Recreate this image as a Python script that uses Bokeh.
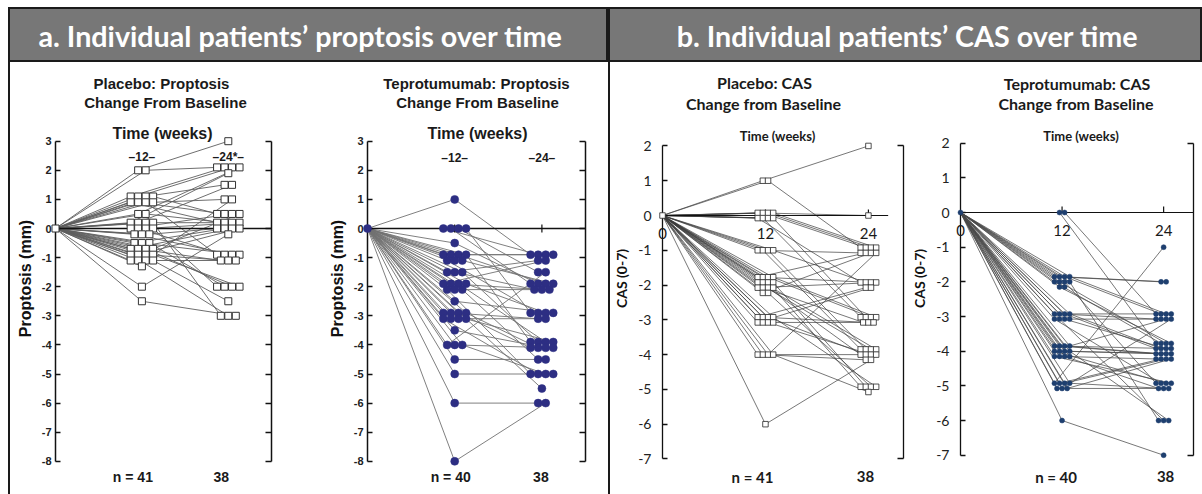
import math
from bokeh.plotting import figure
from bokeh.layouts import column, row
from bokeh.models import Range1d, LinearAxis, FixedTicker, Spacer
from bokeh.core.properties import value
from bokeh.embed import file_html
from bokeh.resources import INLINE

# ---------------- data ----------------
weeks = [0, 12, 24]
baseline_change = 0

headers = ["a. Individual patients\u2019 proptosis over time",
           "b. Individual patients\u2019 CAS over time"]

prop_ticks = [3, 2, 1, 0, -1, -2, -3, -4, -5, -6, -7, -8]
prop_tick_labels = ["3", "2", "1", "0", "-1", "-2", "-3", "-4", "-5", "-6", "-7", "-8"]
cas_ticks = [2, 1, 0, -1, -2, -3, -4, -5, -6, -7]
cas_tick_labels = ["2", "1", "0", "-1", "-2", "-3", "-4", "-5", "-6", "-7"]

pla_prop_week_labels = ["\u201312\u2013", "\u201324*\u2013"]
tep_prop_week_labels = ["\u201312\u2013", "\u201324\u2013"]
cas_week_labels = ["0", "12", "24"]

pla_prop_titles = ["Placebo: Proptosis", "Change From Baseline"]
tep_prop_titles = ["Teprotumumab: Proptosis", "Change From Baseline"]
pla_cas_titles = ["Placebo: CAS", "Change from Baseline"]
tep_cas_titles = ["Teprotumumab: CAS", "Change from Baseline"]
time_label = "Time (weeks)"
prop_ylabel = "Proptosis (mm)"
cas_ylabel = "CAS (0-7)"

pla_prop_n = ["n = 41", "38"]
tep_prop_n = ["n = 40", "38"]
pla_cas_n = ["n = 41", "38"]
tep_cas_n = ["n = 40", "38"]

# change from baseline per patient at week 12 and week 24 (None = no week-24 value)
pla_prop_w12 = [2, 2, 1, 1, 1, 1, 1, 1, 1, 1, 0.5, 0.5, 0, 0, 0, 0, 0, 0, 0, 0, 0, 0, 0,
                -0.5, -0.5, -0.5, -1, -1, -1, -1, -1, -1, -1, -1, -1, -1, -1, -1, -1, -2, -2.5]
pla_prop_w24 = [3, 2, 2, 2, 1.5, 0.5, 0, 0.5, -1, 1, 2, 0, 2, 1.5, 0, -3, 0.5, -1, 0, -2,
                -1, None, 0, 0, -1, -2, 0, -1, -2, 0.5, -3, 0, -1, -2, -1, None, 1, -2.5, None, 0, -3]

tep_prop_w12 = [1, 0, 0, 0, 0, -0.5, -1, -1, -1, -1, -1, -1, -1, -1.5, -1.5, -1.5, -2, -2, -2, -2,
                -2, -2, -2, -2.5, -3, -3, -3, -3, -3, -3, -3, -3, -3.5, -4, -4, -4, -4.5, -5, -6, -8]
tep_prop_w24 = [-1, -1, -2, -1.5, -3, -2, -1, -1, -2, -4, -3, None, -2, -1, -2, -4, -1, -2, -4, -3,
                -5, -2, -4.5, -3, -4, -3, -4, -4, -5, -3, None, -5.5, -4, -1.5, -4, -5, -4.5, -5, -6, -6]

pla_cas_w12 = [1, 1, 0, 0, 0, 0, 0, 0, 0, 0, -1, -1, -1, -1, -2, -2, -2, -2, -2, -2, -2, -2,
               -2, -2, -2, -2, -2, -2, -3, -3, -3, -3, -3, -3, -3, -3, -4, -4, -4, -4, -6]
pla_cas_w24 = [2, -1, 0, -1, -1, -1, -2, -3, None, -3, -1, -4, -4, -2, -1, -2, -3, -3, -4, -4,
               -5, -5, -2, -3, -4, None, -1, -5, -2, -3, -4, -5, -2, -3, -4, None, -4, -4, -1, -5, -4]

tep_cas_w12 = [0, 0, -2, -2, -2, -2, -2, -2, -2, -2, -2, -2, -3, -3, -3, -3, -3, -3, -3, -3,
               -4, -4, -4, -4, -4, -4, -4, -4, -4, -4, -4, -4, -5, -5, -5, -5, -5, -5, -5, -6]
tep_cas_w24 = [-4, -3, -2, -2, -3, -3, -4, -4, -5, -6, -4, None, -3, -3, -4, -4, -5, -6, -4, -3,
               -4, -4, -4, -3, -5, -4, -4, -6, -5, -4, -5, None, -1, -4, -4, -5, -5, -3, -4, -7]

# ---------------- layout / style ----------------
TOP_GAP = 7       # page y where the header starts
HEAD_H = 55
PLOT_TOP = TOP_GAP + HEAD_H   # page y where plot row starts
PLOT_H = 494 - PLOT_TOP
LEFT_GAP = 8

ARIAL = "Liberation Sans"
CAL = "Lato"

cfg_p1 = dict(left=10, w=295, ml=45, mr=34, kx=7.2, ky=29.1, zero_py=228,
              marker="square", msize=7, mfill="white", mline="#333333", mlw=1.0,
              lcol="#5e5e5e", lw=0.9, dx=1.04, dy=0.2, per_row=4,
              zlw=1.6, tick_up=4, tick_dn=4, font=ARIAL,
              title_cx=[161, 165], title_py=[83, 102], title_fs="15px",
              time_xy=(162, 133), time_fs="16px", time_style="bold",
              week_py=156, week_fs="12px", week_style="bold", week_x=weeks[1:],
              n_py=476, n_dx=[-9, -7], n_fs="14px",
              tick_fs="11px", tick_style="bold", tick_standoff=4,
              ylab_fs="16px", ylab_standoff=5, axis_lw=1.5, bracket_all=True)
cfg_p2 = dict(cfg_p1, left=305, w=303, ml=62, mr=23, kx=218 / 30,
              marker="circle", msize=8, mfill="#2d2e83", mline="#2d2e83", mlw=0.5,
              lcol="#727272", lw=0.9,
              title_cx=[476, 477], time_xy=(477, 133), week_py=157, n_dx=[-4, -1])
cfg_p3 = dict(left=610, w=298, ml=52, mr=5, kx=8.58, ky=34.78, zero_py=215,
              marker="square", msize=5.5, mfill="white", mline="#262626", mlw=0.8,
              lcol="#3c3c3c", lw=0.7, dx=0.6, dy=0.15, per_row=4,
              zlw=1.1, tick_up=6, tick_dn=0, font=CAL, zero_end=26.3,
              title_cx=[764, 763], title_py=[82, 103], title_fs="16px",
              time_xy=(777, 135), time_fs="13px", time_style="bold",
              week_py=233, week_fs="15px", week_style="normal", week_x=weeks,
              n_py=476, n_dx=[-13, -3], n_fs="15px",
              tick_fs="14px", tick_style="normal", tick_standoff=11,
              ylab_fs="14px", ylab_standoff=5, axis_lw=1.3, bracket_all=False)
cfg_p4 = dict(cfg_p3, left=908, w=294, ml=51, mr=9, kx=8.5, ky=34.67, zero_py=212,
              marker="circle", msize=5, mfill="#1e3f6f", mline="#1e3f6f", mlw=0.5,
              lcol="#4a4a4a", lw=0.75, zero_end=None,
              title_cx=[1076, 1075], title_py=[83, 103], time_xy=(1080, 135),
              week_py=230, n_dx=[-6, 2])


def swarm(vals, week, dx, dy, per_row):
    """Place equal values side by side (rows of per_row) around (week, value)."""
    xs = [None] * len(vals)
    ys = [None] * len(vals)
    groups = {}
    for i, v in enumerate(vals):
        if v is not None:
            groups.setdefault(v, []).append(i)
    for v, idx in groups.items():
        n = len(idx)
        nrows = math.ceil(n / per_row)
        for k, i in enumerate(idx):
            r = k // per_row
            cnt = min(per_row, n - r * per_row)
            c = k % per_row
            xs[i] = week + (c - (cnt - 1) / 2) * dx
            ys[i] = v + ((nrows - 1) / 2 - r) * dy
    return xs, ys


def build_panel(c, w12, w24, titles, ylabel, yticks, ylabels, week_text, n_text):
    fl = c["left"] + c["ml"]
    fw = c["w"] - c["ml"] - c["mr"]
    kx, ky = c["kx"], c["ky"]
    x_end = fw / kx
    y_top = (c["zero_py"] - PLOT_TOP) / ky
    y_bot = y_top - PLOT_H / ky

    def X(px):
        return (px - fl) / kx

    def Y(py):
        return y_top - (py - PLOT_TOP) / ky

    p = figure(width=c["w"], height=PLOT_H, x_range=Range1d(0, x_end),
               y_range=Range1d(y_bot, y_top), x_axis_type=None, y_axis_type=None,
               output_backend="svg", toolbar_location=None,
               min_border_left=c["ml"], min_border_right=c["mr"],
               min_border_top=0, min_border_bottom=0,
               outline_line_color=None, background_fill_color="white",
               border_fill_color="white")

    lo, hi = min(yticks), max(yticks)
    yl = LinearAxis(ticker=FixedTicker(ticks=yticks), bounds=(lo, hi),
                    major_label_overrides=dict(zip(yticks, ylabels)),
                    major_tick_in=5, major_tick_out=0, minor_tick_line_color=None,
                    axis_line_width=c["axis_lw"], major_tick_line_width=c["axis_lw"],
                    axis_line_color="#111111", major_tick_line_color="#111111",
                    major_label_text_font=c["font"], major_label_text_font_size=c["tick_fs"],
                    major_label_text_font_style=c["tick_style"], major_label_text_color="#222222",
                    major_label_standoff=c["tick_standoff"],
                    axis_label=ylabel, axis_label_text_font=c["font"],
                    axis_label_text_font_size=c["ylab_fs"], axis_label_text_font_style="bold",
                    axis_label_text_color="#111111", axis_label_standoff=c["ylab_standoff"])
    p.add_layout(yl, "left")

    bticks = yticks if c["bracket_all"] else [hi, lo]
    yr = LinearAxis(ticker=FixedTicker(ticks=bticks), bounds=(lo, hi),
                    major_label_overrides={t: "" for t in bticks},
                    major_label_text_font_size="0px", major_label_standoff=0,
                    major_tick_in=6, major_tick_out=0, minor_tick_line_color=None,
                    axis_line_width=c["axis_lw"], major_tick_line_width=c["axis_lw"],
                    axis_line_color="#111111", major_tick_line_color="#111111")
    p.add_layout(yr, "right")

    # individual patient trajectories
    x12, y12 = swarm(w12, weeks[1], c["dx"], c["dy"], c["per_row"])
    x24, y24 = swarm(w24, weeks[2], c["dx"], c["dy"], c["per_row"])
    xs, ys = [], []
    for i in range(len(w12)):
        lx = [weeks[0], x12[i]]
        ly = [baseline_change, y12[i]]
        if w24[i] is not None:
            lx.append(x24[i])
            ly.append(y24[i])
        xs.append(lx)
        ys.append(ly)
    p.multi_line(xs, ys, line_color=c["lcol"], line_width=c["lw"])

    # zero line and week ticks
    zend = c.get("zero_end") or x_end
    p.segment(x0=[weeks[0]], y0=[0], x1=[zend], y1=[0], line_color="#111111",
              line_width=c["zlw"])
    p.segment(x0=weeks[1:], x1=weeks[1:], y0=[-c["tick_dn"] / ky] * 2,
              y1=[c["tick_up"] / ky] * 2, line_color="#111111", line_width=1.2)

    mx = [x for x in x12 if x is not None] + [x for x in x24 if x is not None]
    my = [y for y in y12 if y is not None] + [y for y in y24 if y is not None]
    p.scatter(mx, my, marker=c["marker"], size=c["msize"], fill_color=c["mfill"],
              line_color=c["mline"], line_width=c["mlw"])
    p.scatter([weeks[0]], [baseline_change], marker=c["marker"], size=c["msize"],
              fill_color=c["mfill"], line_color=c["mline"], line_width=c["mlw"],
              level="overlay")

    # texts
    p.text(x=[X(v) for v in c["title_cx"]], y=[Y(v) for v in c["title_py"]], text=titles,
           text_align="center", text_baseline="middle", text_font=value(c["font"]),
           text_font_size=c["title_fs"], text_font_style="bold", text_color="#1a1a1a")
    p.text(x=[X(c["time_xy"][0])], y=[Y(c["time_xy"][1])], text=[time_label],
           text_align="center", text_baseline="middle", text_font=value(c["font"]),
           text_font_size=c["time_fs"], text_font_style=c["time_style"], text_color="#1a1a1a")
    p.text(x=c["week_x"], y=[Y(c["week_py"])] * len(c["week_x"]), text=week_text,
           text_align="center", text_baseline="middle", text_font=value(c["font"]),
           text_font_size=c["week_fs"], text_font_style=c["week_style"], text_color="#1a1a1a",
           level="overlay")
    p.text(x=[weeks[1] + c["n_dx"][0] / kx, weeks[2] + c["n_dx"][1] / kx],
           y=[Y(c["n_py"])] * 2, text=n_text,
           text_align="center", text_baseline="middle", text_font=value(c["font"]),
           text_font_size=c["n_fs"], text_font_style="bold", text_color="#1a1a1a")
    return p


def build_header(text, w, cx):
    h = figure(width=w, height=HEAD_H, x_range=Range1d(0, w), y_range=Range1d(0, HEAD_H),
               x_axis_type=None, y_axis_type=None, output_backend="svg",
               toolbar_location=None, min_border=0,
               background_fill_color="#777777", border_fill_color="#777777",
               outline_line_color="#1a1a1a", outline_line_width=3)
    h.text(x=[cx], y=[27], text=[text], text_align="center", text_baseline="middle",
           text_font=value(CAL), text_font_size="28.7px", text_font_style="bold",
           text_color="white")
    return h


p1 = build_panel(cfg_p1, pla_prop_w12, pla_prop_w24, pla_prop_titles, prop_ylabel,
                 prop_ticks, prop_tick_labels, pla_prop_week_labels, pla_prop_n)
p2 = build_panel(cfg_p2, tep_prop_w12, tep_prop_w24, tep_prop_titles, prop_ylabel,
                 prop_ticks, prop_tick_labels, tep_prop_week_labels, tep_prop_n)
p3 = build_panel(cfg_p3, pla_cas_w12, pla_cas_w24, pla_cas_titles, cas_ylabel,
                 cas_ticks, cas_tick_labels, cas_week_labels, pla_cas_n)
p4 = build_panel(cfg_p4, tep_cas_w12, tep_cas_w24, tep_cas_titles, cas_ylabel,
                 cas_ticks, cas_tick_labels, cas_week_labels, tep_cas_n)

ha = build_header(headers[0], 600, 292)
hb = build_header(headers[1], 594, 299)

top_gap = Spacer(width=1202, height=TOP_GAP)
lg1 = Spacer(width=LEFT_GAP, height=HEAD_H)
lg2 = Spacer(width=LEFT_GAP, height=PLOT_H)
sp1 = Spacer(width=2, height=PLOT_H, styles={"background-color": "#1a1a1a"})
sp2 = Spacer(width=2, height=PLOT_H, styles={"background-color": "#1a1a1a"})

layout = column(top_gap, row(lg1, ha, hb), row(lg2, sp1, p1, p2, sp2, p3, p4))

open("out.html", "w").write(file_html(layout, INLINE))
